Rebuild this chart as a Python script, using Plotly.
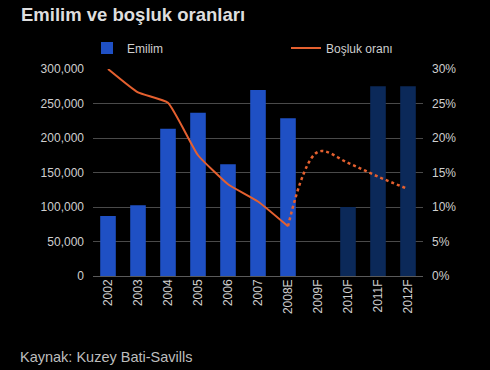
import plotly.graph_objects as go

years = ["2002", "2003", "2004", "2005", "2006", "2007", "2008E",
         "2009F", "2010F", "2011F", "2012F"]
absorption = [87000, 102500, 213500, 236500, 162000, 269500, 228500,
              0, 100000, 275000, 275000]
vacancy_actual_years = ["2002", "2003", "2004", "2005", "2006", "2007", "2008E"]
vacancy_actual = [30.0, 26.6, 25.1, 17.5, 13.3, 10.8, 7.2]
vacancy_fc_years = ["2008E", "2009F", "2010F", "2011F", "2012F"]
vacancy_fc = [7.2, 18.0, 16.4, 14.4, 12.6]
y_ticks = [0, 50000, 100000, 150000, 200000, 250000, 300000]
y2_ticks = [0, 5, 10, 15, 20, 25, 30]
y2_labels = [f"{v}%" for v in y2_ticks]

ACT = "#1f50c4"
FC = "#0b2959"
LINE = "#e5602f"
TXT = "#cfcfcf"
FONT = "Liberation Sans, Arial, sans-serif"

bar_colors = [FC if y.endswith("F") else ACT for y in years]

fig = go.Figure()
fig.add_trace(go.Bar(
    x=years, y=absorption, name="Emilim",
    marker=dict(color=bar_colors, line=dict(width=0)),
    legend="legend",
))
fig.add_trace(go.Scatter(
    x=vacancy_actual_years, y=vacancy_actual, name="Boşluk oranı",
    mode="lines", yaxis="y2",
    line=dict(color=LINE, width=2, shape="spline", smoothing=0.4),
    legend="legend2",
))
fig.add_trace(go.Scatter(
    x=vacancy_fc_years, y=vacancy_fc, name="Boşluk oranı (tahmin)",
    mode="lines", yaxis="y2", showlegend=False,
    line=dict(color=LINE, width=2.5, dash="dot", shape="spline", smoothing=1.0),
))

PW, PH = 330, 207  # plot area size in px
fig.update_layout(
    width=490, height=370,
    paper_bgcolor="black", plot_bgcolor="black",
    margin=dict(l=93, r=67, t=69, b=94),
    font=dict(family=FONT, color=TXT, size=12),
    bargap=0.48,
    showlegend=True,
    title=dict(text="<b>Emilim ve boşluk oranları</b>", x=21/490, xanchor="left",
               y=1-15/370, yanchor="middle",
               font=dict(size=18.5, color="#dedede", family=FONT)),
    xaxis=dict(type="category", categoryorder="array", categoryarray=years,
               tickangle=-90, showgrid=False, zeroline=False, showline=False,
               ticks="", tickfont=dict(size=12, color=TXT)),
    yaxis=dict(range=[0, 300000], tickvals=y_ticks, tickformat=",d",
               showgrid=True, gridcolor="#4a4a4a", gridwidth=1,
               zeroline=True, zerolinecolor="#5a5a5a", zerolinewidth=1,
               showline=False, ticks="", ticklabelstandoff=8,
               tickfont=dict(size=12, color=TXT)),
    yaxis2=dict(range=[0, 30], tickvals=y2_ticks, ticktext=y2_labels,
                overlaying="y", side="right", showgrid=False, zeroline=False,
                showline=False, ticks="", ticklabelstandoff=8,
                tickfont=dict(size=12, color=TXT)),
    legend=dict(x=(87-93)/PW, y=(276-48)/PH, xref="paper", yref="paper",
                xanchor="left", yanchor="middle", bgcolor="rgba(0,0,0,0)",
                font=dict(size=12, color=TXT), itemwidth=30),
    legend2=dict(x=(286-93)/PW, y=(276-48)/PH, xref="paper", yref="paper",
                 xanchor="left", yanchor="middle", bgcolor="rgba(0,0,0,0)",
                 font=dict(size=12, color=TXT), itemwidth=30),
)

fig.add_annotation(text="Kaynak: Kuzey Bati-Savills", xref="paper", yref="paper",
                   x=(18-93)/PW, y=(276-357)/PH, xanchor="left", yanchor="middle",
                   showarrow=False, font=dict(size=14.5, color="#bdbdbd", family=FONT))

fig.write_html("out.html",
               config={"displayModeBar": False},
               post_script="document.body.style.margin='0';"
                           "document.body.style.background='black';")
